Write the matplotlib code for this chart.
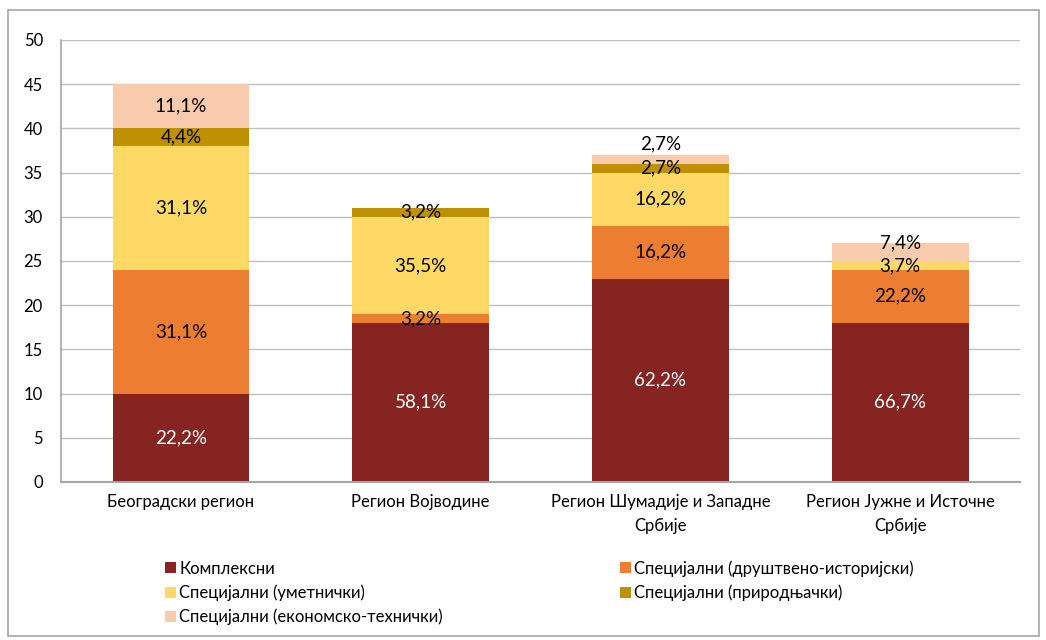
import matplotlib.pyplot as plt
import numpy as np
from matplotlib.patches import Rectangle

plt.rcParams['font.family'] = ['Lato', 'DejaVu Sans']

# регионы
regions = ['Београдски регион', 'Регион Војводине',
           'Регион Шумадије и Западне\nСрбије', 'Регион Јужне и Источне\nСрбије']
series = ['Комплексни', 'Специјални (друштвено-историјски)', 'Специјални (уметнички)',
          'Специјални (природњачки)', 'Специјални (економско-технички)']
kompleksni = [10, 18, 23, 18]
drustveno = [14, 1, 6, 6]
umetnicki = [14, 11, 6, 1]
prirodnjacki = [2, 1, 1, 0]
ekonomsko = [5, 0, 1, 2]
labels = [
    ['22,2%', '58,1%', '62,2%', '66,7%'],
    ['31,1%', '3,2%', '16,2%', '22,2%'],
    ['31,1%', '35,5%', '16,2%', '3,7%'],
    ['4,4%', '3,2%', '2,7%', ''],
    ['11,1%', '', '2,7%', '7,4%'],
]
yticks = [0, 5, 10, 15, 20, 25, 30, 35, 40, 45, 50]

colors = ['#852420', '#ED7D31', '#FFD966', '#BF9000', '#F8CBAD']
text_colors = ['white', 'black', 'black', 'black', 'black']
# pomeranje natpisa koji se preklapaju
shift = {(4, 2): 1.8, (4, 3): 1.0}


def main():
    fig = plt.figure(figsize=(10.46, 6.4), dpi=100)
    ax = fig.add_axes([0.0583, 0.247, 0.917, 0.6905])
    fig.patches.append(Rectangle((0.008, 0.006), 0.985, 0.979, transform=fig.transFigure,
                                 fill=False, edgecolor='#A6A6A6', lw=1.2))

    data = [kompleksni, drustveno, umetnicki, prirodnjacki, ekonomsko]
    x = np.arange(len(regions))
    bottom = np.zeros(len(regions))
    handles = []
    for i, vals in enumerate(data):
        vals = np.array(vals, dtype=float)
        b = ax.bar(x, vals, 0.57, bottom=bottom, color=colors[i], zorder=2)
        handles.append(b)
        for j in range(len(regions)):
            if labels[i][j]:
                y = bottom[j] + vals[j] / 2 + shift.get((i, j), 0)
                ax.text(x[j], y, labels[i][j], ha='center', va='center',
                        fontsize=13.5, color=text_colors[i], zorder=3)
        bottom += vals

    ax.set_xlim(-0.5, 3.5)
    ax.set_ylim(0, 50)
    ax.set_yticks(yticks)
    ax.set_xticks(x)
    ax.set_xticklabels(regions, fontsize=12, linespacing=1.55)
    ax.tick_params(axis='y', labelsize=12, length=0, pad=13)
    ax.tick_params(axis='x', length=0, pad=9)
    ax.grid(axis='y', color='#BFBFBF', lw=1, zorder=0)
    for s in ['top', 'right']:
        ax.spines[s].set_visible(False)
    ax.spines['left'].set_color('#A6A6A6')
    ax.spines['bottom'].set_color('#A6A6A6')
    ax.spines['left'].set_linewidth(1.2)
    ax.spines['bottom'].set_linewidth(1.5)

    order = [0, 2, 4, 1, 3]
    fig.legend([handles[k] for k in order], [series[k] for k in order],
               loc='upper left', bbox_to_anchor=(0.158, 0.125), ncol=2,
               frameon=False, fontsize=12, handlelength=0.65, handleheight=0.65,
               handletextpad=0.2, columnspacing=10.6, labelspacing=0.47,
               borderpad=0, borderaxespad=0)

    fig.savefig('out.png', dpi=100)


if __name__ == '__main__':
    main()
